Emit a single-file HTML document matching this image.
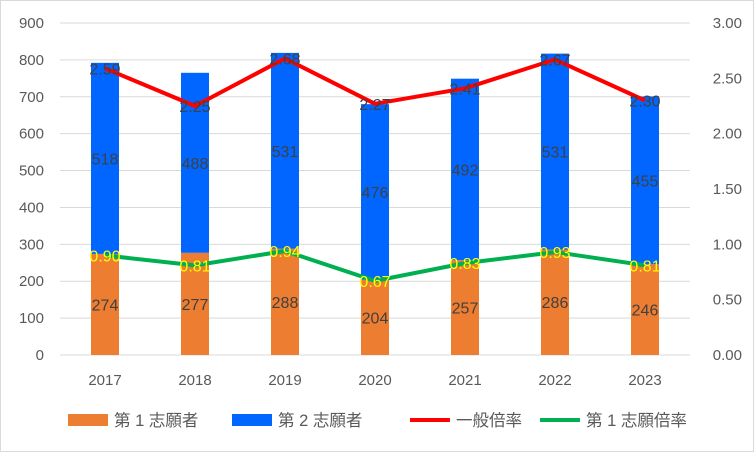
<!DOCTYPE html>
<html><head><meta charset="utf-8"><style>
body{margin:0;background:#fff}
svg{display:block;font-family:"Liberation Sans","Noto Sans CJK JP",sans-serif}
</style></head><body>
<svg id="c" width="754" height="452">
<rect x="0.5" y="0.5" width="753" height="451" fill="#fff" stroke="#d9d9d9"/>
<g id="g"></g>
</svg>
<script>
const categories=["2017","2018","2019","2020","2021","2022","2023"];
const first=[274,277,288,204,257,286,246];
const second=[518,488,531,476,492,531,455];
const general=[2.59,2.25,2.68,2.27,2.41,2.67,2.30];
const firstRate=[0.90,0.81,0.94,0.67,0.83,0.93,0.81];
const leftTicks=[0,100,200,300,400,500,600,700,800,900];
const rightTicks=["0.00","0.50","1.00","1.50","2.00","2.50","3.00"];
const NS="http://www.w3.org/2000/svg";
const g=document.getElementById('g');
const x0=60,x1=690,y0=355,y1=23;
const band=(x1-x0)/categories.length;
const xc=i=>x0+band*(i+0.5);
const yL=v=>y0-(v/900)*(y0-y1);
const yR=v=>y0-(v/3)*(y0-y1);
function el(t,a,txt){const e=document.createElementNS(NS,t);for(const k in a)e.setAttribute(k,a[k]);if(txt!==undefined)e.textContent=txt;g.appendChild(e);return e;}
leftTicks.forEach(v=>{
 if(v>0){const l=el('line',{x1:x0,x2:x1,y1:yL(v),y2:yL(v),stroke:'#d9d9d9','stroke-width':1});
 }
 const t=el('text',{x:44,y:yL(v)+5,'text-anchor':'end','font-size':15,fill:'#595959'},v);
 
});
rightTicks.forEach(v=>{
 const t=el('text',{x:742,y:yR(+v)+5,'text-anchor':'end','font-size':15,fill:'#595959'},v);
 
});
const ax=el('line',{x1:x0,x2:x1,y1:y0,y2:y0,stroke:'#d9d9d9'});

const bw=28;
categories.forEach((c,i)=>{
 const t=el('text',{x:xc(i),y:385,'text-anchor':'middle','font-size':15,fill:'#595959'},c);
 
 const b1=el('rect',{x:xc(i)-bw/2,y:yL(first[i]),width:bw,height:y0-yL(first[i]),fill:'#ed7d31'});
 
 const b2=el('rect',{x:xc(i)-bw/2,y:yL(first[i]+second[i]),width:bw,height:yL(first[i])-yL(first[i]+second[i]),fill:'#0066ff'});
 
});
function line(vals,color,name){
 const p=el('polyline',{points:vals.map((v,i)=>xc(i)+','+yR(v)).join(' '),fill:'none',stroke:color,'stroke-width':4,'stroke-linejoin':'round'});
 
}
line(general,'#ff0000','line-general-rate');
line(firstRate,'#00b050','line-first-rate');
categories.forEach((c,i)=>{
 const a=el('text',{x:xc(i),y:(yL(first[i])+y0)/2+6,'text-anchor':'middle','font-size':16,fill:'#404040'},first[i]);
 
 const b=el('text',{x:xc(i),y:(yL(first[i])+yL(first[i]+second[i]))/2+6,'text-anchor':'middle','font-size':16,fill:'#404040'},second[i]);
 
 const d=el('text',{x:xc(i),y:yR(general[i])+6,'text-anchor':'middle','font-size':16,fill:'#404040'},general[i].toFixed(2));
 
 const e=el('text',{x:xc(i),y:yR(firstRate[i])+6,'text-anchor':'middle','font-size':16,fill:'#ffff00'},firstRate[i].toFixed(2));
 
});
const legend=[["第 1 志願者",'#ed7d31','rect',68],["第 2 志願者",'#0066ff','rect',232],["一般倍率",'#ff0000','line',410],["第 1 志願倍率",'#00b050','line',540]];
legend.forEach(([t,col,k,x])=>{
 let s;
 if(k==='rect') s=el('rect',{x:x,y:414,width:40,height:12,fill:col});
 else s=el('line',{x1:x,x2:x+40,y1:420,y2:420,stroke:col,'stroke-width':4});
 
 const tx=el('text',{x:x+46,y:426,'font-size':16.5,fill:'#595959'},t);
 
});
</script>
</body></html>
